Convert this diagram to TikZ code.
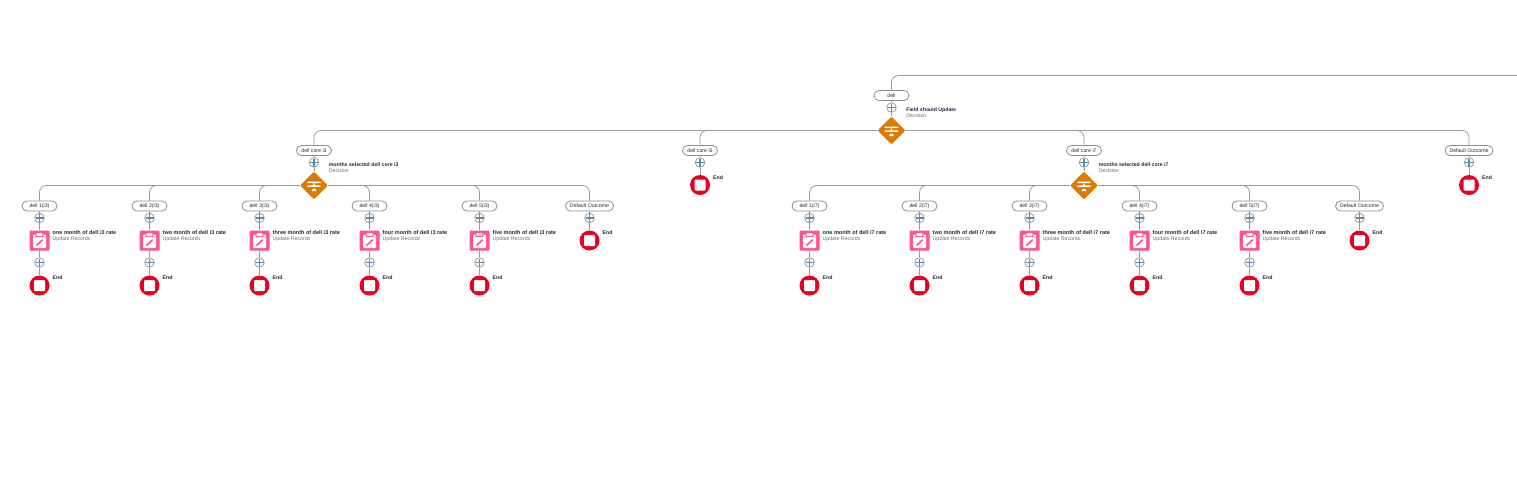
\documentclass[tikz,border=0pt]{standalone}
\usepackage{fontspec}
\setmainfont{Liberation Sans}
\usepackage{xcolor}
\usetikzlibrary{shapes.geometric, positioning, calc}
\definecolor{wiregray}{HTML}{9A9A9A}
\definecolor{pillgray}{HTML}{8F8F8F}
\definecolor{crossblue}{HTML}{5B87B5}
\definecolor{decorange}{HTML}{DD7A01}
\definecolor{recpink}{HTML}{FF538A}
\definecolor{endred}{HTML}{EA001E}
\definecolor{subgray}{HTML}{706E6B}
\definecolor{titledark}{HTML}{1F2A3A}
\tikzset{
	wire/.style={draw=wiregray, line width=0.8pt},
	pill/.style={draw=pillgray, fill=white, rounded corners=5pt, line width=0.8pt, minimum height=10pt, inner sep=0pt, font=\fontsize{5.2}{6}\selectfont, text=titledark},
	plusnode/.style={circle, draw=wiregray, fill=white, line width=0.8pt, minimum size=9.5pt, inner sep=0pt,
		path picture={
			\draw[crossblue, line width=1.1pt]
				($(path picture bounding box.center)+(-4,0)$) -- ($(path picture bounding box.center)+(4,0)$)
				($(path picture bounding box.center)+(0,-4)$) -- ($(path picture bounding box.center)+(0,4)$);
		}},
	decnode/.style={diamond, aspect=1, fill=decorange, minimum size=28pt, inner sep=0pt, rounded corners=1pt,
		path picture={
			\begin{scope}[shift={(path picture bounding box.center)}]
				\fill[white] (-7,2.4) rectangle (7,3.9);
				\fill[white] (-7,-1.4) rectangle (7,0.1);
				\fill[white] (-0.7,-1.4) rectangle (0.7,2.4);
				\fill[white] (-3,-5.5) -- (3,-5.5) -- (0,-2.4) -- cycle;
			\end{scope}
		}},
	recnode/.style={rectangle, fill=recpink, minimum size=20pt, inner sep=0pt, rounded corners=1pt,
		path picture={
			\begin{scope}[shift={(path picture bounding box.center)}]
				\fill[white, rounded corners=1pt] (-6.5,-7.5) rectangle (6.5,6);
				\fill[recpink] (-4.2,3.4) rectangle (4.2,6);
				\fill[white, rounded corners=0.5pt] (-2.8,4.4) rectangle (2.8,7.5);
				\draw[recpink, line width=1.6pt] (-3,-5) -- (3.2,0.8);
			\end{scope}
		}},
	endnode/.style={circle, fill=endred, minimum size=20pt, inner sep=0pt,
		path picture={
			\fill[white, rounded corners=1pt]
				($(path picture bounding box.center)+(-5.5,-5.5)$) rectangle ($(path picture bounding box.center)+(5.5,5.5)$);
		}},
	nametext/.style={font=\fontsize{5.2}{6}\selectfont\bfseries, text=titledark, inner sep=0pt, anchor=west},
	recordtext/.style={nametext, font=\fontsize{5.5}{6}\selectfont\bfseries},
	kindtext/.style={font=\fontsize{5.2}{6}\selectfont, text=subgray, inner sep=0pt, anchor=west}
}

\begin{document}
\begin{tikzpicture}[x=1pt, y=1pt, node distance=12pt, on grid]
	\useasboundingbox[fill=white] (0,0) rectangle (1517,-499);
	
	% === TOP DECISION ===
	\coordinate (exit) at (1517,-75.5);
	\node[pill, minimum width=35pt] (dell) at (891.5,-95.5) {dell};
	\node[plusnode, below=of dell] (dellplus) {};
	\node[decnode, below=23pt of dellplus] (delldec) {};
	\node[nametext] (delltitle) at ($(dellplus.east)+(9.5,-2.5)$) {Field should Update};
	\node[kindtext, below=6pt of delltitle.west, anchor=west] (dellkind) {Decision};
	\draw[wire, rounded corners=7pt] (dell.north) |- (exit);
	\draw[wire] (dell) -- (dellplus);
	\draw[wire] (dellplus) -- (delldec);
	
	% === CORE BRANCHES ===
	\foreach \core/\corex in {i3/314, i7/1084} {
		\node[pill, minimum width=35pt] (\core pill) at (\corex,-150.5) {dell core \core};
		\node[plusnode, below=of \core pill] (\core plus) {};
		\node[decnode, below=23pt of \core plus] (\core dec) {};
		\node[nametext] (\core title) at ($(\core plus.east)+(9.5,-2.5)$) {months selected dell core \core};
		\node[kindtext, below=6pt of \core title.west, anchor=west] (\core kind) {Decision};
		\draw[wire, rounded corners=7pt] (delldec) -| (\core pill);
		\draw[wire] (\core pill) -- (\core plus);
		\draw[wire] (\core plus) -- (\core dec);
		
		% five record columns under each decision
		\foreach \n/\word in {1/one, 2/two, 3/three, 4/four, 5/five} {
			\node[pill, minimum width=35pt] (\core p\n) at ($(\core dec)+(-384.5+110*\n,-20.5)$) {dell \n(\core)};
			\node[plusnode, below=of \core p\n] (\core a\n) {};
			\node[recnode, below=22.5pt of \core a\n] (\core r\n) {};
			\node[plusnode, below=22pt of \core r\n] (\core b\n) {};
			\node[endnode, below=23pt of \core b\n] (\core e\n) {};
			\node[recordtext] (\core t\n) at ($(\core r\n.east)+(2.8,7.5)$) {\word{} month of dell \core{} rate};
			\node[kindtext, below=6.5pt of \core t\n.west, anchor=west] (\core k\n) {Update Records};
			\node[nametext] (\core l\n) at ($(\core e\n.east)+(2.8,7.5)$) {End};
			\draw[wire, rounded corners=7pt] (\core dec) -| (\core p\n);
			\draw[wire] (\core p\n) -- (\core a\n);
			\draw[wire] (\core a\n) -- (\core r\n);
			\draw[wire] (\core r\n) -- (\core b\n);
			\draw[wire] (\core b\n) -- (\core e\n);
		}
		
		% default outcome of the inner decision
		\node[pill, minimum width=48pt] (\core dp) at ($(\core dec)+(275.5,-20.5)$) {Default Outcome};
		\node[plusnode, below=of \core dp] (\core da) {};
		\node[endnode, below=22.5pt of \core da] (\core de) {};
		\node[nametext] (\core dl) at ($(\core de.east)+(2.8,7.5)$) {End};
		\draw[wire, rounded corners=7pt] (\core dec) -| (\core dp);
		\draw[wire] (\core dp) -- (\core da);
		\draw[wire] (\core da) -- (\core de);
	}
	
	% === SIMPLE BRANCHES ===
	\foreach \short/\shortx/\shorttext/\shortw in {five/700/dell core i5/35, dflt/1469/Default Outcome/48} {
		\node[pill, minimum width=\shortw pt] (\short pill) at (\shortx,-150.5) {\shorttext};
		\node[plusnode, below=of \short pill] (\short plus) {};
		\node[endnode, below=22.5pt of \short plus] (\short end) {};
		\node[nametext] (\short label) at ($(\short end.east)+(2.8,7.5)$) {End};
		\draw[wire, rounded corners=7pt] (delldec) -| (\short pill);
		\draw[wire] (\short pill) -- (\short plus);
		\draw[wire] (\short plus) -- (\short end);
	}
\end{tikzpicture}
\end{document}
